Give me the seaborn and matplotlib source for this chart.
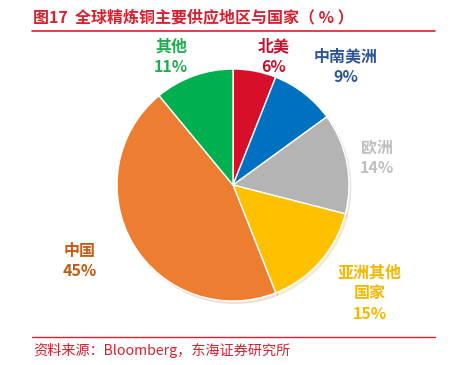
import matplotlib
matplotlib.use("Agg")
import matplotlib.pyplot as plt
import seaborn as sns

# data
regions = ["北美", "中南美洲", "欧洲", "亚洲其他\n国家", "中国", "其他"]
shares = [6, 9, 14, 15, 45, 11]
wedge_colors = ["#D80F2A", "#0070C0", "#B4B4B4", "#FFC000", "#ED7D31", "#00B050"]
text_colors = ["#C8102E", "#2F5597", "#BFBFBF", "#F5B800", "#C55A11", "#1FAE4E"]

sns.set_theme(style="white")
plt.rcParams['font.family'] = ['Noto Sans CJK SC', 'DejaVu Sans']

fig = plt.figure(figsize=(4.53, 3.65), dpi=100)
fig.patch.set_facecolor("white")

# pie axes: centre ~ (233,185) px, radius ~116 px
r = 116
ax = fig.add_axes([(233 - r) / 453, (365 - 185 - r) / 365, 2 * r / 453, 2 * r / 365])
ax.pie(shares, colors=wedge_colors, startangle=90, counterclock=False,
       radius=1, shadow={'ox': 0.012, 'oy': -0.015, 'shade': 0.2, 'alpha': 0.15})
ax.set_xlim(-1, 1)
ax.set_ylim(-1, 1)
ax.set_aspect("equal")
ax.axis("off")

# label positions in pixel coords of the reference
label_pos = [(274, 57), (346, 67), (377, 158), (370, 293), (80, 261), (171, 57)]
for name, val, col, (px, py) in zip(regions, shares, text_colors, label_pos):
    fig.text(px / 453, 1 - py / 365, f"{name}\n{val}%", color=col,
             fontsize=11.5, fontweight="bold", ha="center", va="center",
             linespacing=1.35)

# title and source
red = "#D9202E"
fig.text(33 / 453, 1 - 17 / 365, "图17  全球精炼铜主要供应地区与国家（ % ）",
         color=red, fontsize=11.5, fontweight="bold", ha="left", va="center")
fig.add_artist(plt.Line2D([32 / 453, 435 / 453], [1 - 31 / 365] * 2,
                          color=red, lw=1.2))
fig.add_artist(plt.Line2D([32 / 453, 435 / 453], [1 - 337 / 365] * 2,
                          color=red, lw=1.0))
fig.text(33 / 453, 1 - 350 / 365, "资料来源：Bloomberg，东海证券研究所",
         color=red, fontsize=10.2, ha="left", va="center")

fig.savefig("out.png", dpi=100)
